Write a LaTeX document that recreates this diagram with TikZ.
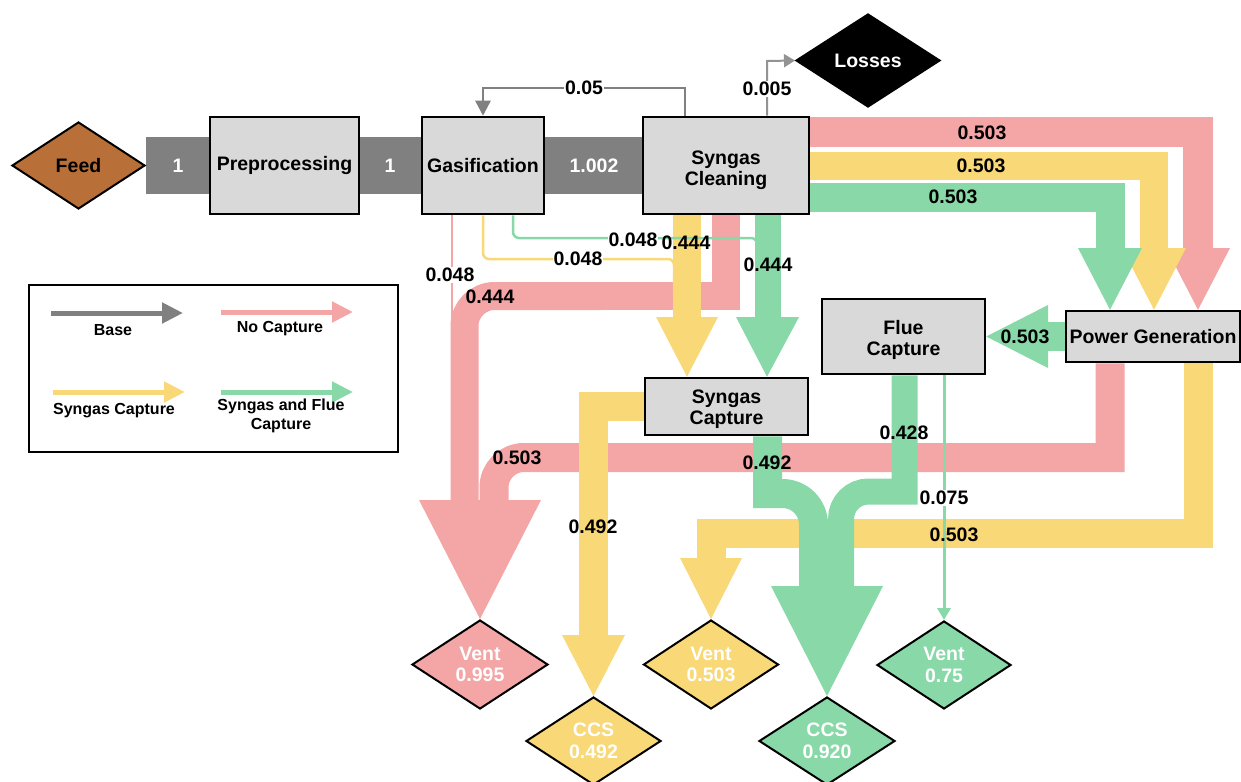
\documentclass[tikz,border=0pt]{standalone}
\usepackage{fontspec}
\setmainfont{Liberation Sans}
\usetikzlibrary{shapes.geometric,arrows.meta,calc,backgrounds}

\definecolor{pinkcol}{RGB}{244,165,165}
\definecolor{yellowcol}{RGB}{249,216,119}
\definecolor{greencol}{RGB}{136,216,168}
\definecolor{basecol}{RGB}{128,128,128}
\definecolor{boxfill}{RGB}{217,217,217}
\definecolor{feedfill}{RGB}{184,112,56}

\begin{document}
\begin{tikzpicture}[x=1pt,y=-1pt,
  every node/.style={font=\fontsize{19.5}{21.5}\selectfont\bfseries},
  unitbox/.style={draw=black,line width=2.5pt,fill=boxfill,align=center,inner sep=0pt},
  endpoint/.style={diamond,shape aspect=1.5,draw=black,line width=2pt,inner sep=0pt,align=center,text=white},
  flowband/.style={line width=#1,line join=miter},
  flowband/.default=29pt,
  thinflow/.style={line width=2.5pt,rounded corners=6pt},
  linelabel/.style={fill=white,inner sep=1pt},
  legendtext/.style={font=\fontsize{16}{18}\selectfont\bfseries,align=center},
]
\useasboundingbox (0,0) rectangle (1241,781);

% ---------- process units and end points ----------
\node[endpoint,fill=feedfill,text=black,minimum width=133pt,minimum height=87pt] (feed) at (78.5,165.5) {Feed};
\node[endpoint,fill=black,minimum width=144pt,minimum height=93pt] (loss) at (868,60.5) {Losses};
\node[unitbox,minimum width=149pt,minimum height=97pt] (prep) at (284.5,165.5) {Preprocessing};
\node[unitbox,minimum width=122pt,minimum height=97pt] (gas) at (483,165.5) {Gasification};
\node[unitbox,minimum width=166pt,minimum height=97pt] (clean) at (726,165.5) {\rule{0pt}{23pt}Syngas\\Cleaning};
\node[unitbox,minimum width=174pt,minimum height=51pt] (power) at (1153,336.5) {Power Generation};
\node[unitbox,minimum width=163pt,minimum height=75pt] (flue) at (903.5,336.5) {\rule{0pt}{21pt}Flue\\Capture};
\node[unitbox,minimum width=163pt,minimum height=57pt] (scap) at (726.5,406.5) {\rule{0pt}{19pt}Syngas\\Capture};

\node[endpoint,fill=pinkcol,minimum width=136pt,minimum height=89pt] (vent1) at (480,664.5) {Vent\\0.995};
\node[endpoint,fill=yellowcol,minimum width=135pt,minimum height=88pt] (ccs1) at (593.5,741) {CCS\\0.492};
\node[endpoint,fill=yellowcol,minimum width=135pt,minimum height=89pt] (vent2) at (711,664.5) {Vent\\0.503};
\node[endpoint,fill=greencol,minimum width=136pt,minimum height=88pt] (ccs2) at (827,741) {CCS\\0.920};
\node[endpoint,fill=greencol,minimum width=134pt,minimum height=88pt] (vent3) at (944,665) {Vent\\0.75};

% ---------- flows, drawn behind the units ----------
\begin{pgfonlayer}{background}
  % base route
  \draw[basecol,flowband=57pt] (feed.east) -- (prep.west);
  \draw[basecol,flowband=57pt] (prep.east) -- (gas.west);
  \draw[basecol,flowband=57pt] (gas.east) -- (clean.west);
  \draw[basecol,line width=2.5pt,-{Triangle[length=15pt,width=15pt]}]
    (685,0 |- clean.north) -- (685,88) -- (483,88) -- (gas.north);
  \draw[basecol!85,line width=2pt,-{Triangle[length=11pt,width=13pt]}]
    (767,0 |- clean.north) -- (767,61) -- (loss.west);

  % no capture
  \draw[pinkcol,flowband=30pt] (clean.east |- 0,132) -- (1198,132) -- (1198,248);
  \fill[pinkcol] (1166,248) -- (1230,248) -- (1198,0 |- power.north) -- cycle;
  \draw[pinkcol,flowband=28pt] (726,0 |- clean.south) -- (726,296) -- (600,296);
  \draw[pinkcol,flowband=28pt] (601,296) -- (494.5,296)
    .. controls (478,296) and (464.5,309.5) .. (464.5,326) -- (464.5,500);
  \draw[pinkcol,thinflow] (452,0 |- gas.south) -- (452,340);
  \draw[pinkcol,flowband=29pt] (1110,0 |- power.south) -- (1110,457.5) -- (524,457.5)
    .. controls (507.4,457.5) and (494,470.9) .. (494,487.5) -- (494,500.5);
  \fill[pinkcol] (419,500) -- (541,500) -- (vent1.north) -- cycle;

  % syngas capture
  \draw[yellowcol,flowband=28.5pt] (clean.east |- 0,166) -- (1154,166) -- (1154,248);
  \fill[yellowcol] (1122,248) -- (1186,248) -- (1154,0 |- power.north) -- cycle;
  \draw[yellowcol,flowband=28pt] (687,0 |- clean.south) -- (687,317.5);
  \fill[yellowcol] (656,317) -- (718,317) -- (687,0 |- scap.north) -- cycle;
  \draw[yellowcol,thinflow] (483,0 |- gas.south) -- (483,259) -- (674,259) -- (674,300);
  \draw[yellowcol,flowband=29pt] (scap.west) -- (593.5,406.5) -- (593.5,635.5);
  \fill[yellowcol] (562,635) -- (625,635) -- (ccs1.north) -- cycle;
  \draw[yellowcol,flowband=29pt] (1198,0 |- power.south) -- (1198,533.5) -- (711,533.5) -- (711,558.5);
  \fill[yellowcol] (680,558) -- (742,558) -- (vent2.north) -- cycle;

  % syngas and flue capture
  \draw[greencol,flowband=29pt] (clean.east |- 0,197.5) -- (1110,197.5) -- (1110,248);
  \fill[greencol] (1078,248) -- (1142,248) -- (1110,0 |- power.north) -- cycle;
  \draw[greencol,flowband=26pt] (768,0 |- clean.south) -- (768,317.5);
  \fill[greencol] (736,317) -- (799,317) -- (767,0 |- scap.north) -- cycle;
  \draw[greencol,thinflow] (513,0 |- gas.south) -- (513,238) -- (757,238) -- (757,300);
  \draw[greencol,flowband=29pt] (power.west) -- (1047,336.5);
  \fill[greencol] (1048,305) -- (1048,368) -- (flue.east) -- cycle;
  \draw[greencol,flowband=29pt] (767.5,0 |- scap.south) -- (767.5,493.5) -- (782.5,493.5)
    .. controls (799.6,493.5) and (813.5,507.4) .. (813.5,524.5) -- (813.5,586.5);
  \draw[greencol,flowband=26pt] (904.5,0 |- flue.south) -- (904.5,491.5) -- (868.5,491.5)
    .. controls (853.3,491.5) and (841,503.8) .. (841,519) -- (841,586.5);
  \fill[greencol] (771,586) -- (883,586) -- (ccs2.north) -- cycle;
  \draw[greencol,line width=3pt,-{Triangle[length=12pt,width=13pt]}]
    (944,0 |- flue.south) -- (vent3.north);
\end{pgfonlayer}

% ---------- flow values ----------
\node[text=white] (v1) at (178,166) {1};
\node[text=white] (v2) at (390,166) {1};
\node[text=white] (v3) at (594,166) {1.002};
\node[linelabel] (vrec) at (584,88) {0.05};
\node[linelabel] (vloss) at (767,89) {0.005};
\node (vtp) at (982,133) {0.503};
\node (vty) at (981,166) {0.503};
\node (vtg) at (953,197) {0.503};
\node[linelabel] (vgg) at (633,240) {0.048};
\node (vcy) at (686,243) {0.444};
\node[linelabel] (vgy) at (578,259) {0.048};
\node (vcg) at (768,265) {0.444};
\node[linelabel] (vgp) at (450,275) {0.048};
\node (vcp) at (490,297) {0.444};
\node (vpf) at (1025,337) {0.503};
\node (vfc) at (904,433) {0.428};
\node (vpp) at (517,458) {0.503};
\node (vsg) at (767,463) {0.492};
\node[linelabel] (vfv) at (944,498) {0.075};
\node (vsy) at (593,527) {0.492};
\node (vpy) at (954,535) {0.503};

% ---------- legend ----------
\node[draw=black,line width=2.5pt,minimum width=369pt,minimum height=167pt,inner sep=0pt] (legend) at (213.5,368.5) {};
\draw[basecol,line width=5pt,-{Triangle[length=21pt,width=20pt]}] (51,313) -- (183,313);
\node[legendtext] (lbase) at (113,330) {Base};
\draw[pinkcol,line width=5pt,-{Triangle[length=21pt,width=20pt]}] (221,312) -- (353,312);
\node[legendtext] (lnone) at (280,329) {No Capture};
\draw[yellowcol,line width=5pt,-{Triangle[length=21pt,width=20pt]}] (53,392) -- (185,392);
\node[legendtext] (lsyn) at (114,411) {Syngas Capture};
\draw[greencol,line width=5pt,-{Triangle[length=21pt,width=20pt]}] (221,392) -- (353,392);
\node[legendtext,font=\fontsize{16}{18.5}\selectfont\bfseries] (lboth) at (281,416) {Syngas and Flue\\Capture};
\end{tikzpicture}
\end{document}
